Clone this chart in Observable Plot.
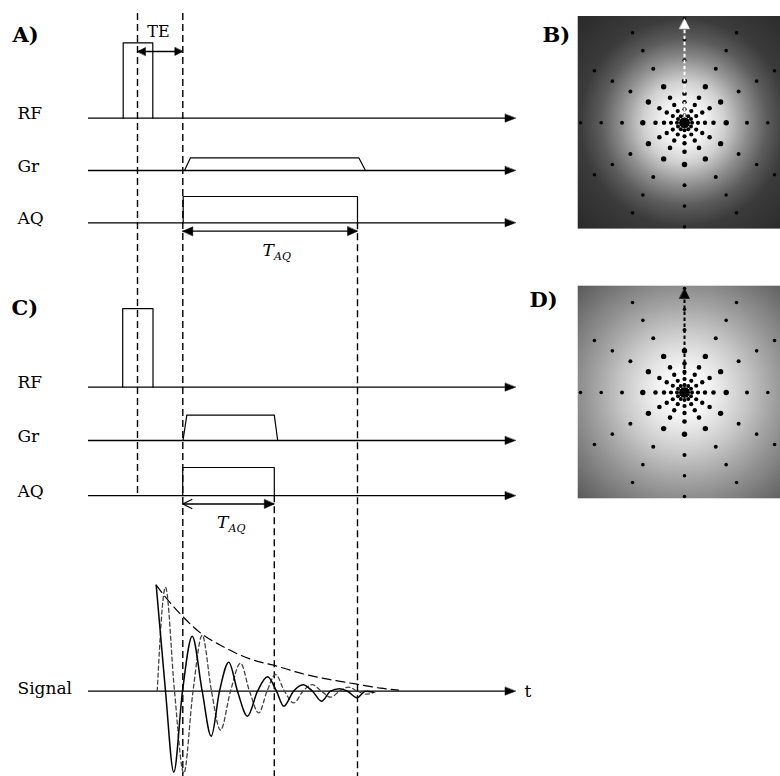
<!DOCTYPE html>
<html><head><meta charset="utf-8">
<script src="https://cdn.jsdelivr.net/npm/d3@7"></script>
<script src="https://cdn.jsdelivr.net/npm/@observablehq/plot@0.6"></script>
<style>html,body{margin:0;padding:0;background:#fff}</style>
</head><body><div id="chart"></div>
<script>
// ---------------- data (diagram units) ----------------
const axisStart = 88, axisEnd = 515;
const rowNames  = ["RF", "Gr", "AQ", "RF", "Gr", "AQ", "Signal"];
const rowLevels = [117.7, 170, 222.3, 386.7, 440, 495.2, 690.7];

// RF pulses (panel A, panel C)
const rfStart = [122.7, 122.2];
const rfEnd   = [152.3, 152.5];
const rfTop   = [42.3, 308.2];
const rfRow   = [0, 3];

// readout gradient trapezoids
const grRampStart   = [184, 182.5];
const grPlateauFrom = [190, 186.3];
const grPlateauTo   = [358.3, 273.8];
const grRampEnd     = [365, 277.2];
const grTop         = [157.3, 414.6];
const grRow         = [1, 4];

// acquisition windows
const aqStart = [182.7, 182.2];
const aqEnd   = [357, 273.8];
const aqTop   = [196, 467];
const aqRow   = [2, 5];

// dashed timing markers
const markerX      = [137, 182.3, 357, 273.8];
const markerTop    = [13, 13, 222.3, 495.2];
const markerBottom = [495.2, 776, 776, 776];

// TE and T_AQ spans
const teFrom = 137, teTo = 182.3, teLevel = 51;
const taqFrom  = [182.3, 182.3];
const taqTo    = [357, 273.8];
const taqLevel = [230.7, 503.5];

// Signal (FID): time, amplitude above axis
const solidT = [155.7, 165, 173.3, 182, 191.7, 201.7, 210.7, 219, 228.3, 237, 247, 257, 267, 276, 283.3, 293, 302.5, 312, 321, 330, 339, 347, 356.5, 365, 373];
const solidA = [106, 0, -81, 0, 55, 0, -45, 0, 29, 0, -25, 0, 14.5, 0, -15, 0, 6.5, 0, -10, 0, 2.5, 0, -6.5, 0, -1];
const quadT  = [156.7, 165, 174, 183.3, 192.5, 201.7, 211, 220, 230, 240, 249, 258.3, 266.5, 275, 284, 293.3, 302.5, 311.7, 321, 330, 339, 348, 357, 366, 376];
const quadA  = [0, 104, 0, -82, 0, 56, 0, -39, 0, 28, 0, -21.7, 0, 16.7, 0, -11.7, 0, 6.5, 0, -6, 0, 4, 0, -3, 0];
const envT   = [155.7, 165, 180, 203, 220, 240, 260, 273, 300, 330, 356.5, 380, 398];
const envA   = [106, 94, 77, 56, 46, 36, 29, 26, 18, 11.5, 7, 3, 1];

// k-space (radial trajectory)
const kPanelNames = ["B", "D"];
const kCenterX = [684, 684];
const kCenterY = [122.3, 392];
const kHalf = 106.3;
const spokeAngles = [0, 30, 60, 90, 120, 150, 180, 210, 240, 270, 300, 330];
const sampleRadii = [3.8, 7.5, 13.5, 20.5, 29, 41.7, 62.5, 83.3, 104];
const sampleSize  = [1.8, 2.0, 2.1, 2.2, 2.3, 2.7, 2.0, 1.8, 1.8];

// labels
const panelLetters = ["A)", "B)", "C)", "D)"];
const panelLetterX = [12, 542, 11, 529];
const panelLetterY = [41, 41.7, 314, 306.7];

// ---------------- build tables ----------------
const rows = rowNames.map((name, i) => ({name, level: rowLevels[i]}));

const poly = [];
rfStart.forEach((s, i) => {
  const base = rowLevels[rfRow[i]], id = "rf" + i;
  [[s, base], [s, rfTop[i]], [rfEnd[i], rfTop[i]], [rfEnd[i], base]].forEach(([x, y]) => poly.push({id, x, y}));
});
grRampStart.forEach((s, i) => {
  const base = rowLevels[grRow[i]], id = "gr" + i;
  [[s, base], [grPlateauFrom[i], grTop[i]], [grPlateauTo[i], grTop[i]], [grRampEnd[i], base]].forEach(([x, y]) => poly.push({id, x, y}));
});
aqStart.forEach((s, i) => {
  const base = rowLevels[aqRow[i]], id = "aq" + i;
  [[s, base], [s, aqTop[i]], [aqEnd[i], aqTop[i]], [aqEnd[i], base]].forEach(([x, y]) => poly.push({id, x, y}));
});

const markers = markerX.map((x, i) => ({x, y1: markerTop[i], y2: markerBottom[i]}));

const spans = [{x1: teFrom, x2: teTo, y: teLevel}]
  .concat(taqFrom.map((f, i) => ({x1: f, x2: taqTo[i], y: taqLevel[i]})));

function head(id, tipX, tipY, dx, dy, len, half) {
  const bx = tipX - dx * len, by = tipY - dy * len, px = -dy, py = dx;
  return [{id, x: tipX, y: tipY}, {id, x: bx + px * half, y: by + py * half}, {id, x: bx - px * half, y: by - py * half}];
}
let blackHeads = [];
rows.forEach((r, i) => { blackHeads = blackHeads.concat(head("ax" + i, axisEnd, r.level, 1, 0, 10.5, 4)); });
blackHeads = blackHeads.concat(head("te0", teFrom, teLevel, -1, 0, 8, 4), head("te1", teTo, teLevel, 1, 0, 8, 4));
blackHeads = blackHeads.concat(head("ta0", taqFrom[0], taqLevel[0], -1, 0, 10, 4.5), head("ta1", taqTo[0], taqLevel[0], 1, 0, 10, 4.5));
blackHeads = blackHeads.concat(head("tc1", taqTo[1], taqLevel[1], 1, 0, 10, 4.5));
blackHeads = blackHeads.concat(head("kD", kCenterX[1], kCenterY[1] - 104, 0, -1, 10, 5));
const whiteHeads = head("kB", kCenterX[0], kCenterY[0] - 104, 0, -1, 10, 5);
const openHead = head("tc0", taqFrom[1], taqLevel[1], -1, 0, 9, 4.5);
const openChevron = [openHead[1], openHead[0], openHead[2]];

const sigLevel = rowLevels[6];
const solid = solidT.map((t, i) => ({x: t, y: sigLevel - solidA[i]}));
const quad  = quadT.map((t, i) => ({x: t, y: sigLevel - quadA[i]}));
const env   = envT.map((t, i) => ({x: t, y: sigLevel - envA[i]}));

const kBoxes = kPanelNames.map((n, i) => ({n, x1: kCenterX[i] - kHalf, x2: kCenterX[i] + kHalf, y1: kCenterY[i] - kHalf, y2: kCenterY[i] + kHalf}));
const kDots = [];
kPanelNames.forEach((n, p) => {
  kDots.push({x: kCenterX[p], y: kCenterY[p], r: 4});
  spokeAngles.forEach(a => {
    const rad = a * Math.PI / 180;
    sampleRadii.forEach((rr, k) => kDots.push({x: kCenterX[p] + rr * Math.sin(rad), y: kCenterY[p] - rr * Math.cos(rad), r: sampleSize[k]}));
  });
});
const kLines = kPanelNames.map((n, i) => ({x: kCenterX[i], y1: kCenterY[i] - 5, y2: kCenterY[i] - 94}));

const letters = panelLetters.map((t, i) => ({t, x: panelLetterX[i], y: panelLetterY[i]}));
const rowLabels = rows.map(r => ({t: r.name, x: 17, y: r.level + (r.name === "Signal" ? 2.5 : 1)}));
const taqT = [{x: 262, y: 255}, {x: 216.5, y: 527}];
const taqSub = [{x: 273.5, y: 259}, {x: 228, y: 531}];

const font = "'DejaVu Serif', serif";
const svg = Plot.plot({
  width: 780, height: 776, margin: 0,
  x: {domain: [0, 780], range: [0, 780], axis: null},
  y: {domain: [0, 776], range: [0, 776], axis: null},
  r: {type: "identity"},
  style: {background: "white", fontFamily: font},
  marks: [
    // k-space backgrounds
    Plot.rect(kBoxes.slice(0, 1), {x1: "x1", x2: "x2", y1: "y1", y2: "y2", fill: "url(#gradB)"}),
    Plot.rect(kBoxes.slice(1), {x1: "x1", x2: "x2", y1: "y1", y2: "y2", fill: "url(#gradD)"}),
    Plot.dot(kDots, {x: "x", y: "y", r: "r", fill: "black", stroke: "none"}),
    Plot.ruleX(kLines.slice(0, 1), {x: "x", y1: "y1", y2: "y2", stroke: "white", strokeWidth: 2, strokeDasharray: "3.5,2.5"}),
    Plot.ruleX(kLines.slice(1), {x: "x", y1: "y1", y2: "y2", stroke: "black", strokeWidth: 2, strokeDasharray: "3.5,2.5"}),
    Plot.line(whiteHeads, {x: "x", y: "y", z: "id", fill: "white", stroke: "white", strokeWidth: 0.5, curve: "linear-closed"}),
    // timing markers
    Plot.ruleX(markers, {x: "x", y1: "y1", y2: "y2", stroke: "black", strokeWidth: 1.4, strokeDasharray: "7,4"}),
    // axes
    Plot.ruleY(rows, {y: "level", x1: axisStart, x2: axisEnd - 6, stroke: "black", strokeWidth: 1.3}),
    // pulses, gradients, acquisition windows
    Plot.line(poly, {x: "x", y: "y", z: "id", stroke: "black", strokeWidth: 1.2}),
    // spans
    Plot.ruleY(spans, {y: "y", x1: "x1", x2: "x2", stroke: "black", strokeWidth: 1.3}),
    Plot.line(openChevron, {x: "x", y: "y", stroke: "black", strokeWidth: 1.3}),
    Plot.line(blackHeads, {x: "x", y: "y", z: "id", fill: "black", stroke: "black", strokeWidth: 0.5, curve: "linear-closed"}),
    // signal
    Plot.line(env, {x: "x", y: "y", stroke: "black", strokeWidth: 1.2, strokeDasharray: "9,5", curve: "monotone-x"}),
    Plot.line(quad, {x: "x", y: "y", stroke: "#444", strokeWidth: 1.3, strokeDasharray: "4,3", curve: "monotone-x"}),
    Plot.line(solid, {x: "x", y: "y", stroke: "black", strokeWidth: 1.5, curve: "monotone-x"}),
    // texts
    Plot.text(letters, {x: "x", y: "y", text: "t", textAnchor: "start", lineAnchor: "bottom", fontSize: 21, fontWeight: "bold", fontFamily: font, fill: "black"}),
    Plot.text(rowLabels, {x: "x", y: "y", text: "t", textAnchor: "start", lineAnchor: "bottom", fontSize: 17, fontFamily: font, fill: "black"}),
    Plot.text([{t: "TE", x: 158, y: 36.7}], {x: "x", y: "y", text: "t", textAnchor: "middle", lineAnchor: "bottom", fontSize: 16, fontFamily: font, fill: "black"}),
    Plot.text([{t: "t", x: 524, y: 696}], {x: "x", y: "y", text: "t", textAnchor: "start", lineAnchor: "bottom", fontSize: 17, fontFamily: font, fill: "black"}),
    Plot.text(taqT, {x: "x", y: "y", text: () => "T", textAnchor: "start", lineAnchor: "bottom", fontSize: 17, fontStyle: "italic", fontFamily: font, fill: "black"}),
    Plot.text(taqSub, {x: "x", y: "y", text: () => "AQ", textAnchor: "start", lineAnchor: "bottom", fontSize: 11, fontStyle: "italic", fontFamily: font, fill: "black"})
  ]
});

const defs = d3.select(svg).insert("defs", ":first-child");
function grad(id, stops) {
  const g = defs.append("radialGradient").attr("id", id).attr("gradientUnits", "objectBoundingBox")
    .attr("cx", 0.5).attr("cy", 0.5).attr("r", 0.71);
  stops.forEach(([o, c]) => g.append("stop").attr("offset", o).attr("stop-color", c));
}
grad("gradB", [[0, "#ffffff"], [0.13, "#f6f6f6"], [0.27, "#d0d0d0"], [0.42, "#8e8e8e"], [0.55, "#5c5c5c"], [0.69, "#3b3b3b"], [1, "#292929"]]);
grad("gradD", [[0, "#ffffff"], [0.13, "#fafafa"], [0.27, "#e2e2e2"], [0.42, "#c6c6c6"], [0.55, "#aaaaaa"], [0.69, "#8f8f8f"], [1, "#585858"]]);

document.getElementById("chart").appendChild(svg);
</script>
</body></html>
